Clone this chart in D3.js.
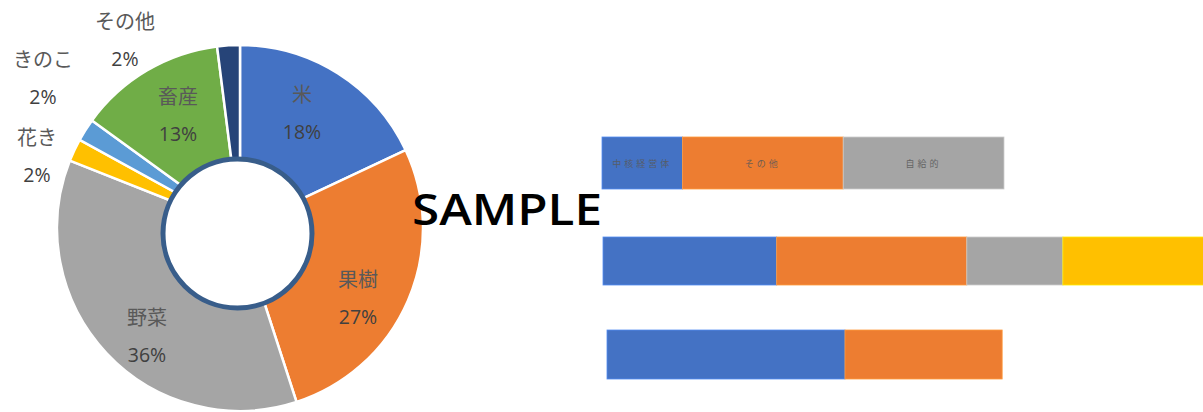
<!DOCTYPE html>
<html>
<head>
<meta charset="utf-8">
<script src="https://cdn.jsdelivr.net/npm/d3@7.9.0/dist/d3.min.js"></script>
<style>
  body { margin: 0; background: #fff; }
  svg { display: block; font-family: "Noto Sans CJK JP", "Noto Sans", sans-serif; }
</style>
</head>
<body>
<svg id="chart" width="1203" height="412"></svg>
<script>
// pie data (clockwise from 12 o'clock)
const pieLabels = ['米', '果樹', '野菜', '花き', 'きのこ', '畜産', 'その他'];
const pieValues = [18, 27, 36, 2, 2, 13, 2];
const pieColors = ['#4472C4', '#ED7D31', '#A5A5A5', '#FFC000', '#5B9BD5', '#70AD47', '#264478'];

// stacked bars
const barSeries = [
  { labels: ['中核経営体', 'その他', '自給的'], values: [20, 40, 40] },
  { labels: ['', '', '', ''], values: [43.2, 47.3, 23.9, 36] },
  { labels: ['', ''], values: [59.2, 39.1] }
];
const barColors = ['#4472C4', '#ED7D31', '#A5A5A5', '#FFC000'];

const svg = d3.select('#chart');

// ---- pie with a hole ----
const cx = 240, cy = 228, r = 183;
const pie = d3.pie().sort(null).value(d => d)(pieValues);
const arc = d3.arc().innerRadius(0).outerRadius(r);

const gPie = svg.append('g').attr('transform', `translate(${cx},${cy})`);
gPie.selectAll('path')
  .data(pie)
  .enter()
  .append('path')
  .attr('d', arc)
  .attr('fill', (d, i) => pieColors[i])
  .attr('stroke', '#fff')
  .attr('stroke-width', 2.5);

// inner circle (slightly off-centre like the original)
svg.append('circle')
  .attr('cx', cx - 2.5)
  .attr('cy', cy + 5.5)
  .attr('r', 74.5)
  .attr('fill', '#fff')
  .attr('stroke', '#385D8A')
  .attr('stroke-width', 5);

// labels: inside ones in the slice, small slices outside
const labelPos = [
  { x: 302, y: 95 }, { x: 358, y: 280 }, { x: 147, y: 318 },
  { x: 37, y: 138 }, { x: 43, y: 60 }, { x: 178, y: 97 }, { x: 125, y: 22 }
];
const total = d3.sum(pieValues);
const gLab = svg.append('g');
pie.forEach((d, i) => {
  const p = labelPos[i];
  gLab.append('text')
    .attr('x', p.x).attr('y', p.y + 7)
    .attr('text-anchor', 'middle')
    .attr('font-size', 20)
    .attr('fill', '#595959')
    .text(pieLabels[i]);
  gLab.append('text')
    .attr('x', p.x).attr('y', p.y + 44)
    .attr('text-anchor', 'middle')
    .attr('font-size', 19.5)
    .attr('font-family', '"Open Sans", sans-serif')
    .attr('fill', '#404040')
    .text(d3.format('.0%')(d.value / total));
});

// ---- stacked bars ----
const x = d3.scaleLinear().domain([0, 100]).range([0, 402]);
const rowsY = [137, 237, 330];
const rowsX = [602, 603, 607];
const barH = [52, 48, 49];

barSeries.forEach((row, ri) => {
  let acc = 0;
  const g = svg.append('g').attr('transform', `translate(${rowsX[ri]},${rowsY[ri]})`);
  row.values.forEach((v, si) => {
    const x0 = x(acc), w = x(v);
    g.append('rect')
      .attr('x', x0).attr('y', 0)
      .attr('width', w).attr('height', barH[ri])
      .attr('fill', barColors[si])
      .attr('stroke', d3.color(barColors[si]).brighter(0.6))
      .attr('stroke-width', 0.8);
    if (row.labels[si]) {
      g.append('text')
        .attr('x', x0 + w / 2).attr('y', barH[ri] / 2 + 3.5)
        .attr('text-anchor', 'middle')
        .attr('font-size', 9)
        .attr('letter-spacing', 3)
        .attr('fill', '#595959')
        .attr('opacity', 0.85)
        .text(row.labels[si]);
    }
    acc += v;
  });
});

// ---- watermark ----
svg.append('text')
  .attr('x', 412).attr('y', 225)
  .attr('font-family', '"Open Sans", sans-serif')
  .attr('font-weight', 600)
  .attr('font-size', 44)
  .attr('textLength', 190)
  .attr('lengthAdjust', 'spacingAndGlyphs')
  .attr('fill', '#000')
  .text('SAMPLE');
</script>
</body>
</html>
